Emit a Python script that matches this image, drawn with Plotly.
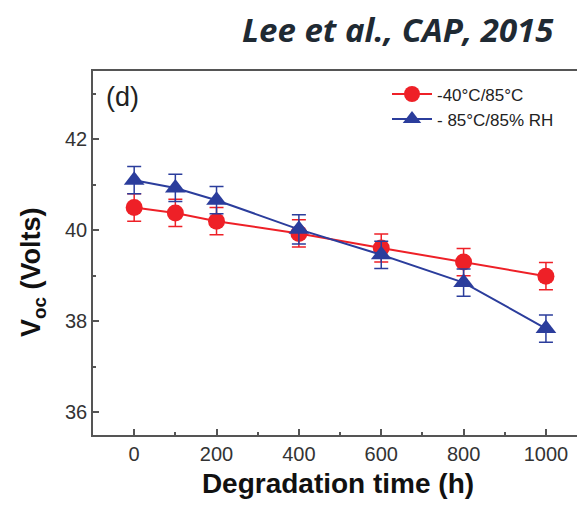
import plotly.graph_objects as go

time_h = [0, 100, 200, 400, 600, 800, 1000]
voc_cycle = [40.50, 40.38, 40.20, 39.93, 39.61, 39.30, 38.99]
err_cycle = [0.30, 0.30, 0.30, 0.30, 0.31, 0.30, 0.30]
voc_dh = [41.10, 40.93, 40.66, 40.02, 39.46, 38.85, 37.84]
err_dh = [0.30, 0.30, 0.30, 0.32, 0.30, 0.30, 0.30]

names = ["-40°C/85°C", "- 85°C/85% RH"]
RED = "#ee2027"
BLUE = "#2b3d9c"
AXC = "#555555"

fig = go.Figure()
fig.add_trace(go.Scatter(
    x=time_h, y=voc_cycle, name=names[0], mode="lines+markers",
    line=dict(color=RED, width=2),
    marker=dict(symbol="circle", size=17, color=RED),
    error_y=dict(type="data", array=err_cycle, color=RED, thickness=1.5, width=7),
))
fig.add_trace(go.Scatter(
    x=time_h, y=voc_dh, name=names[1], mode="lines+markers",
    line=dict(color=BLUE, width=2),
    marker=dict(symbol="triangle-up", size=18, color=BLUE),
    error_y=dict(type="data", array=err_dh, color=BLUE, thickness=1.5, width=7),
))

axis_common = dict(
    showline=True, linecolor=AXC, linewidth=1.5, mirror=True,
    ticks="inside", ticklen=6, tickcolor=AXC, tickwidth=1.5,
    showgrid=False, zeroline=False, automargin=False,
    tickfont=dict(family="Liberation Sans, Arial", size=20, color="#333333"),
)
fig.update_xaxes(
    range=[-100, 1090], tickvals=[0, 200, 400, 600, 800, 1000],
    minor=dict(ticks="inside", ticklen=3, tickcolor=AXC, tickwidth=1.5,
               tickvals=[100, 300, 500, 700, 900]),
    title=dict(text="<b>Degradation time (h)</b>", standoff=10,
               font=dict(family="Liberation Sans, Arial", size=28, color="#111111")),
    **axis_common,
)
fig.update_yaxes(
    range=[35.5, 43.5], tickvals=[36, 38, 40, 42],
    minor=dict(ticks="inside", ticklen=3, tickcolor=AXC, tickwidth=1.5,
               tickvals=[37, 39, 41, 43]),
    **axis_common,
)

# y-axis title placed as rotated text (sits slightly below the axis centre in the reference)
fig.add_annotation(
    text="<b>V<sub>oc</sub> (Volts)</b>", xref="paper", yref="paper",
    x=(33 - 93) / 490, y=(435 - 272) / 364, xanchor="center", yanchor="middle",
    textangle=-90, showarrow=False,
    font=dict(family="Liberation Sans, Arial", size=27, color="#111111"),
)
fig.add_annotation(
    text="(d)", xref="paper", yref="paper", x=0.022, y=0.975,
    xanchor="left", yanchor="top", showarrow=False,
    font=dict(family="Liberation Sans, Arial", size=27, color="#222222"),
)
fig.add_annotation(
    text="<b><i>Lee et al., CAP, 2015</i></b>", xref="paper", yref="paper",
    x=(556 - 93) / 490, y=1 + (71 - 30) / 364, yanchor="middle", xanchor="right",
    showarrow=False,
    font=dict(family="Open Sans, Lato, sans-serif", size=33, color="#1f2a33"),
)

fig.update_layout(
    width=577, height=500,
    margin=dict(l=85, r=2, t=63, b=73),
    paper_bgcolor="white", plot_bgcolor="white",
    showlegend=True,
    legend=dict(
        x=0.6, y=0.985, xanchor="left", yanchor="top",
        bgcolor="rgba(0,0,0,0)", tracegroupgap=0, itemwidth=40,
        font=dict(family="Liberation Sans, Arial", size=17, color="#222222"),
    ),
)

fig.write_html("out.html")
